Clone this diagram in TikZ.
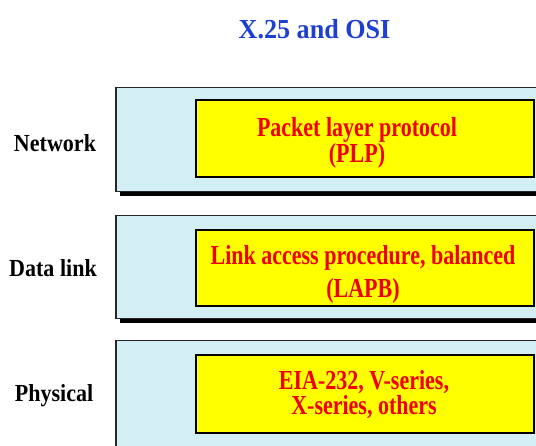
\documentclass[tikz,border=0pt]{standalone}
\usepackage{fontspec}
\setmainfont{Liberation Serif}
\newfontfamily\titlefont[FakeStretch=0.95]{Liberation Serif}
\newfontfamily\labelfont[FakeStretch=0.9]{Liberation Serif}
\newfontfamily\protofont[FakeStretch=0.8]{Liberation Serif}
\usetikzlibrary{shadows}
\definecolor{layerblue}{RGB}{212,238,245}
\definecolor{protoyellow}{RGB}{255,255,0}
\definecolor{protored}{RGB}{240,0,0}
\definecolor{titleblue}{RGB}{30,64,210}
\tikzset{
  layerbox/.style={draw=black!85, line width=1.5pt, fill=layerblue,
    anchor=north west, minimum width=470pt, inner sep=0pt,
    drop shadow={shadow xshift=4pt, shadow yshift=-4.5pt, fill=black, opacity=1}},
  protobox/.style={draw=black, line width=2pt, fill=protoyellow,
    anchor=north west, minimum width=338pt, inner sep=0pt},
  prototext/.style={anchor=base, inner sep=0pt, text=protored,
    font=\protofont\bfseries\fontsize{27.5}{27.5}\selectfont},
  layerlabel/.style={anchor=base, inner sep=0pt, text=black,
    font=\labelfont\bfseries\fontsize{24.5}{24.5}\selectfont},
  titletext/.style={anchor=base, inner sep=0pt, text=titleblue,
    font=\titlefont\bfseries\fontsize{27.5}{27.5}\selectfont}
}
\begin{document}
\begin{tikzpicture}[x=1pt,y=-1pt]
\clip (0,0) rectangle (536,446);
\fill[white] (0,0) rectangle (536,446);

% title
\node[titletext] (title) at (314.5,39) {X.25 and OSI};

% network layer
\node[layerbox, minimum height=104pt] (net) at (115,87) {};
\node[protobox, minimum height=77pt] (plp) at (195,99) {};
\node[prototext] (plpa) at (357,137) {Packet layer protocol};
\node[prototext] (plpb) at (357,162.5) {(PLP)};
\node[layerlabel] (netlab) at (55,152) {Network};

% data link layer
\node[layerbox, minimum height=103pt] (dl) at (115,215) {};
\node[protobox, minimum height=76pt] (lapb) at (195,229) {};
\node[prototext] (lapba) at (363,265) {Link access procedure, balanced};
\node[prototext] (lapbb) at (363,298) {(LAPB)};
\node[layerlabel] (dllab) at (53,277) {Data link};

% physical layer
\node[layerbox, minimum height=120pt] (phy) at (115,340) {};
\node[protobox, minimum height=78pt] (phys) at (195,354) {};
\node[prototext] (physa) at (364,389.5) {EIA-232, V-series,};
\node[prototext] (physb) at (364,415) {X-series, others};
\node[layerlabel] (phylab) at (54,402) {Physical};
\end{tikzpicture}
\end{document}
